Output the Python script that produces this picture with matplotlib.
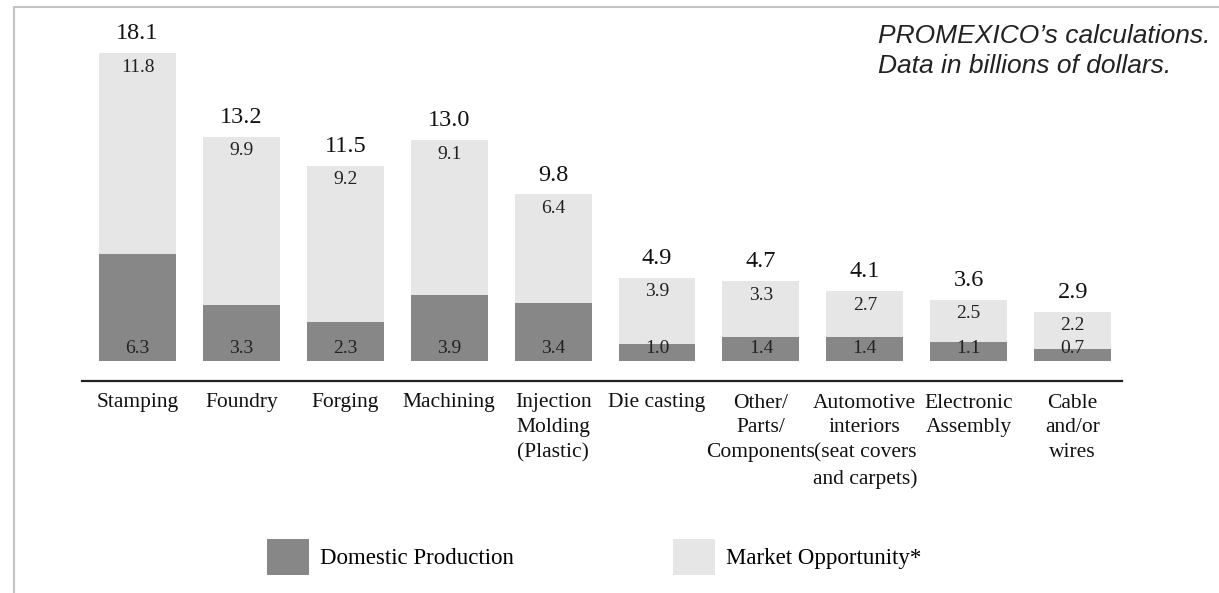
import numpy as np
import matplotlib
matplotlib.use('Agg')
from matplotlib import pyplot as plt
from matplotlib.lines import Line2D

categories = ['Stamping', 'Foundry', 'Forging', 'Machining',
              'Injection\nMolding\n(Plastic)', 'Die casting',
              'Other/\nParts/\nComponents',
              'Automotive\ninteriors\n(seat covers\nand carpets)',
              'Electronic\nAssembly', 'Cable\nand/or\nwires']
domestic = [6.3, 3.3, 2.3, 3.9, 3.4, 1.0, 1.4, 1.4, 1.1, 0.7]
opportunity = [11.8, 9.9, 9.2, 9.1, 6.4, 3.9, 3.3, 2.7, 2.5, 2.2]
totals = [18.1, 13.2, 11.5, 13.0, 9.8, 4.9, 4.7, 4.1, 3.6, 2.9]

plt.rcParams['font.family'] = ['Liberation Serif', 'DejaVu Serif']

W, H = 1219, 593
fig = plt.figure(figsize=(W / 100, H / 100), dpi=100)
ax = fig.add_axes([82 / W, (H - 361) / H, 1040 / W, 340 / H])

x = np.arange(len(categories))
dark = '#878787'
light = '#e6e6e6'
b1 = ax.bar(x, domestic, width=0.74, color=dark, label='Domestic Production')
b2 = ax.bar(x, opportunity, width=0.74, bottom=domestic, color=light,
            label='Market Opportunity*')

for i in range(len(x)):
    ax.annotate(f'{domestic[i]:.1f}', (x[i], 0), xytext=(0, 6),
                textcoords='offset points', ha='center', va='baseline',
                fontsize=14, color='#222222')
    ax.annotate(f'{opportunity[i]:.1f}', (x[i], totals[i]), xytext=(0, -4),
                textcoords='offset points', ha='center', va='top',
                fontsize=14, color='#222222')
    ax.annotate(f'{totals[i]:.1f}', (x[i], totals[i]), xytext=(0, 10),
                textcoords='offset points', ha='center', va='baseline',
                fontsize=17.5, color='#111111')

for s in ['top', 'right', 'left']:
    ax.spines[s].set_visible(False)
ax.spines['bottom'].set_position(('outward', 14.4))
ax.spines['bottom'].set_linewidth(1.6)
ax.spines['bottom'].set_color('#222222')
ax.patch.set_visible(False)

ax.set_xlim(-0.534, 9.475)
ax.set_ylim(0, 20)
ax.set_yticks([])
ax.set_xticks(x)
ax.set_xticklabels(categories, fontsize=15.5, linespacing=1.42, color='#111111')
ax.tick_params(axis='x', length=0, pad=9)

# frame lines of the original picture
fig.add_artist(Line2D([14 / W, 14 / W], [0, 1 - 7 / H], color='#c4c4c4', lw=1.5))
fig.add_artist(Line2D([14 / W, 1], [1 - 7 / H, 1 - 7 / H], color='#c4c4c4', lw=1.5))

fig.text(878 / W, 1 - 24 / H, "PROMEXICO\u2019s calculations.\nData in billions of dollars.",
         family='Liberation Sans', style='italic', fontsize=19, color='#222222',
         va='top', ha='left', linespacing=1.3)

fig.legend(handles=[b1], loc='center left', bbox_to_anchor=(267 / W, 1 - 557 / H),
           frameon=False, fontsize=16.5, handlelength=1.85, handleheight=2.1,
           handletextpad=0.45, borderpad=0, borderaxespad=0)
fig.legend(handles=[b2], loc='center left', bbox_to_anchor=(673 / W, 1 - 557 / H),
           frameon=False, fontsize=16.5, handlelength=1.85, handleheight=2.1,
           handletextpad=0.45, borderpad=0, borderaxespad=0)

plt.savefig('out.png', dpi=100)
